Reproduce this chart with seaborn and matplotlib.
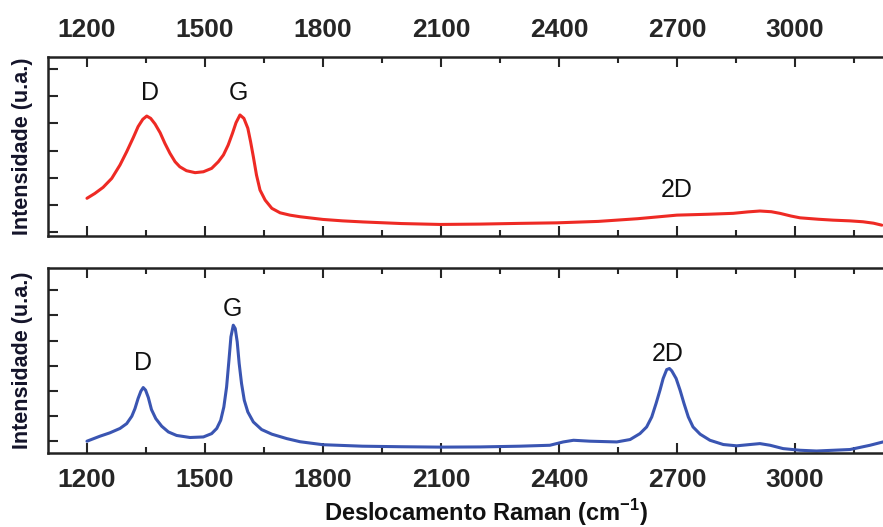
import matplotlib
matplotlib.use("Agg")
import matplotlib.pyplot as plt
from matplotlib.ticker import MultipleLocator
import numpy as np
import pandas as pd
import seaborn as sns

# Espectro superior (vermelho) (u.a., 0-1)
wn_top = [1200, 1220, 1241, 1263, 1284, 1301, 1318, 1330, 1342, 1352, 1362,
          1373, 1386, 1398, 1411, 1424, 1436, 1453, 1475, 1496, 1517, 1534,
          1547, 1559, 1570, 1579, 1589, 1599, 1609, 1616, 1623, 1631, 1640,
          1653, 1670, 1691, 1716, 1742, 1800, 1850, 1902, 2000, 2098, 2200,
          2300, 2395, 2500, 2600, 2650, 2700, 2780, 2843, 2880, 2911, 2940,
          2962, 2990, 3013, 3060, 3097, 3140, 3173, 3200, 3221]
int_top = [0.211, 0.238, 0.272, 0.322, 0.397, 0.471, 0.551, 0.611, 0.652,
           0.670, 0.657, 0.626, 0.577, 0.518, 0.462, 0.415, 0.387, 0.365,
           0.354, 0.359, 0.378, 0.415, 0.453, 0.508, 0.574, 0.633, 0.676,
           0.657, 0.602, 0.527, 0.443, 0.341, 0.257, 0.201, 0.155, 0.130,
           0.117, 0.108, 0.093, 0.085, 0.079, 0.070, 0.065, 0.067, 0.071,
           0.074, 0.082, 0.097, 0.107, 0.117, 0.122, 0.127, 0.135, 0.140,
           0.136, 0.127, 0.112, 0.102, 0.094, 0.089, 0.085, 0.080, 0.072,
           0.061]

# Espectro inferior (azul)
wn_bot = [1200, 1233, 1258, 1284, 1301, 1314, 1322, 1330, 1337, 1343, 1349,
          1356, 1364, 1375, 1390, 1407, 1428, 1462, 1496, 1517, 1530, 1540,
          1548, 1555, 1561, 1566, 1572, 1577, 1582, 1587, 1593, 1600, 1609,
          1623, 1644, 1670, 1708, 1742, 1800, 1900, 2000, 2100, 2200, 2300,
          2377, 2411, 2437, 2479, 2547, 2581, 2606, 2623, 2636, 2647, 2657,
          2665, 2674, 2681, 2687, 2698, 2708, 2718, 2729, 2741, 2759, 2784,
          2818, 2852, 2886, 2911, 2937, 2970, 3013, 3055, 3140, 3191, 3224]
int_bot = [0.065, 0.092, 0.110, 0.134, 0.160, 0.200, 0.241, 0.296, 0.335,
           0.355, 0.341, 0.301, 0.236, 0.187, 0.146, 0.115, 0.096, 0.085,
           0.088, 0.106, 0.134, 0.178, 0.250, 0.358, 0.503, 0.629, 0.692,
           0.674, 0.602, 0.485, 0.377, 0.286, 0.223, 0.169, 0.128, 0.103,
           0.079, 0.062, 0.046, 0.038, 0.035, 0.033, 0.034, 0.038, 0.043,
           0.061, 0.070, 0.065, 0.061, 0.074, 0.106, 0.142, 0.196, 0.269,
           0.341, 0.404, 0.452, 0.458, 0.445, 0.404, 0.341, 0.269, 0.196,
           0.142, 0.103, 0.070, 0.047, 0.040, 0.047, 0.052, 0.043, 0.025,
           0.016, 0.012, 0.020, 0.043, 0.061]

# Rótulos dos picos
labels_top = ["D", "G", "2D"]
lab_top_x = [1360, 1584, 2700]
lab_top_y = [0.80, 0.80, 0.257]
labels_bot = ["D", "G", "2D"]
lab_bot_x = [1342, 1571, 2677]
lab_bot_y = [0.486, 0.778, 0.535]

xticks = [1200, 1500, 1800, 2100, 2400, 2700, 3000]

sns.set_style("ticks")
plt.rcParams["font.family"] = ["Liberation Sans", "DejaVu Sans"]
plt.rcParams["mathtext.fontset"] = "custom"
plt.rcParams["mathtext.rm"] = "Liberation Sans"
plt.rcParams["mathtext.bf"] = "Liberation Sans:bold"

fig = plt.figure(figsize=(8.83, 5.27), dpi=100)
ax1 = fig.add_axes([0.0544, 0.552, 0.9456, 0.340])
ax2 = fig.add_axes([0.0544, 0.140, 0.9456, 0.351])

df_top = pd.DataFrame({"wn": wn_top, "I": int_top})
df_bot = pd.DataFrame({"wn": wn_bot, "I": int_bot})
sns.lineplot(data=df_top, x="wn", y="I", ax=ax1, color="#ee2a24", linewidth=2.2)
sns.lineplot(data=df_bot, x="wn", y="I", ax=ax2, color="#3a55b2", linewidth=2.2)

for t, x, y in zip(labels_top, lab_top_x, lab_top_y):
    ax1.text(x, y, t, fontsize=18, ha="center", va="center", color="#111111")
for t, x, y in zip(labels_bot, lab_bot_x, lab_bot_y):
    ax2.text(x, y, t, fontsize=18, ha="center", va="center", color="#111111")

for ax, yt in [(ax1, np.linspace(0.022, 0.933, 7)), (ax2, np.linspace(0.065, 0.881, 7))]:
    ax.set_xlim(1101, 3224)
    ax.set_ylim(0, 1)
    ax.set_xticks(xticks)
    ax.set_xticklabels([str(v) for v in xticks], fontweight="bold", fontsize=19)
    ax.xaxis.set_minor_locator(MultipleLocator(150))
    ax.set_yticks(yt)
    ax.set_yticklabels([])
    ax.set_xlabel("")
    ax.set_ylabel("")
    ax.xaxis.set_ticks_position("both")
    ax.tick_params(axis="x", which="major", direction="in", length=7, width=1.5, pad=11)
    ax.tick_params(axis="x", which="minor", direction="in", length=4, width=1.5)
    ax.tick_params(axis="y", which="major", direction="in", length=7, width=1.5)
    for s in ["left", "top", "bottom"]:
        ax.spines[s].set_linewidth(1.8)
        ax.spines[s].set_color("#222222")
    ax.spines["right"].set_visible(False)

ax1.tick_params(axis="x", labeltop=True, labelbottom=False)
ax2.tick_params(axis="x", labeltop=False, labelbottom=True)

fig.text(0.025, 0.723, "Intensidade (u.a.)", rotation=90, ha="center", va="center",
         fontsize=15.5, fontweight="bold", color="#14142a")
fig.text(0.025, 0.317, "Intensidade (u.a.)", rotation=90, ha="center", va="center",
         fontsize=15.5, fontweight="bold", color="#14142a")
fig.text(0.55, 0.028, r"Deslocamento Raman (cm$^{\mathbf{-1}}$)", ha="center", va="center",
         fontsize=17, fontweight="bold", color="#111111")

fig.savefig("out.png", dpi=100)
